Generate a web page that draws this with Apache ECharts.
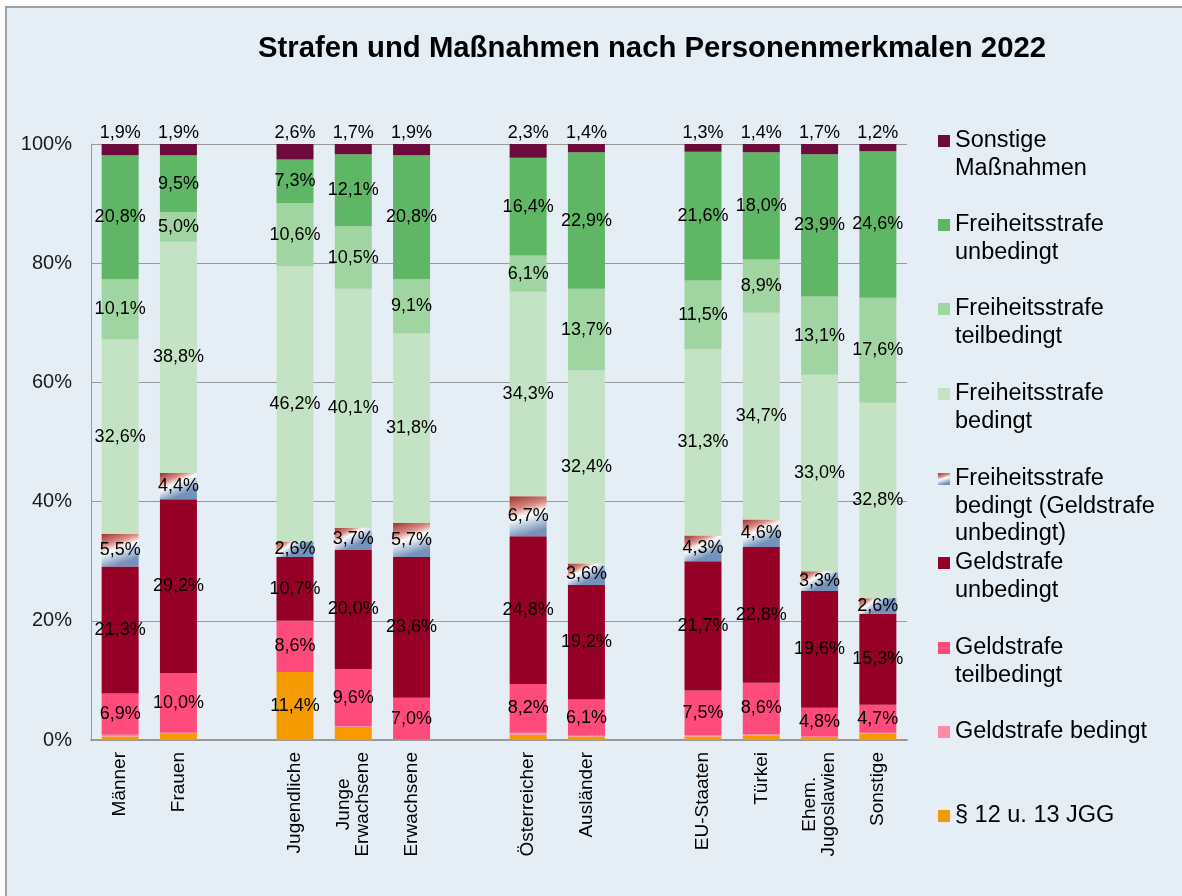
<!DOCTYPE html>
<html>
<head>
<meta charset="utf-8">
<script src="https://cdn.jsdelivr.net/npm/echarts@6/dist/echarts.min.js"></script>
<style>
    body { margin: 0; background: #fff; }
    #chart {
        position: absolute; left: 5px; top: 6px;
        width: 1177px; height: 890px;
        border-left: 2px solid #a0a0a0; border-top: 2px solid #a0a0a0;
        background: #e6eef5;
    }
</style>
</head>
<body>
<div id="chart"></div>
<script>
// groups of categories, separated by an empty slot on the axis
const groups = [
    ['Männer', 'Frauen'],
    ['Jugendliche', 'Junge\nErwachsene', 'Erwachsene'],
    ['Österreicher', 'Ausländer'],
    ['EU-Staaten', 'Türkei', 'Ehem.\nJugoslawien', 'Sonstige'],
];

// values in %, one per category (same order as groups, flattened)
const jgg          = [0.6, 1.0, 11.4, 2.2, 0.0, 0.9, 0.6, 0.6, 0.7, 0.5, 1.1];
const geldBed      = [0.3, 0.2, 0.0, 0.1, 0.1, 0.3, 0.1, 0.2, 0.3, 0.1, 0.1];
const geldTeil     = [6.9, 10.0, 8.6, 9.6, 7.0, 8.2, 6.1, 7.5, 8.6, 4.8, 4.7];
const geldUnbed    = [21.3, 29.2, 10.7, 20.0, 23.6, 24.8, 19.2, 21.7, 22.8, 19.6, 15.3];
const freiBedGeld  = [5.5, 4.4, 2.6, 3.7, 5.7, 6.7, 3.6, 4.3, 4.6, 3.3, 2.6];
const freiBed      = [32.6, 38.8, 46.2, 40.1, 31.8, 34.3, 32.4, 31.3, 34.7, 33.0, 32.8];
const freiTeil     = [10.1, 5.0, 10.6, 10.5, 9.1, 6.1, 13.7, 11.5, 8.9, 13.1, 17.6];
const freiUnbed    = [20.8, 9.5, 7.3, 12.1, 20.8, 16.4, 22.9, 21.6, 18.0, 23.9, 24.6];
const sonstige     = [1.9, 1.9, 2.6, 1.7, 1.9, 2.3, 1.4, 1.3, 1.4, 1.7, 1.2];

const yTicks = [0, 20, 40, 60, 80, 100];

const FONT = '"Liberation Sans", Arial, sans-serif';

const hatch = new echarts.graphic.LinearGradient(0, 0, 0.3, 1, [
    { offset: 0, color: '#a0302c' },
    { offset: 0.35, color: '#d98f87' },
    { offset: 0.55, color: '#ffffff' },
    { offset: 0.78, color: '#b5c6dc' },
    { offset: 1, color: '#7592bb' },
]);

// bottom -> top stacking order
const seriesDefs = [
    { name: '§ 12 u. 13 JGG', data: jgg, color: '#f59b00' },
    { name: 'Geldstrafe bedingt', data: geldBed, color: '#ff8aa8' },
    { name: 'Geldstrafe teilbedingt', data: geldTeil, color: '#ff4b7b' },
    { name: 'Geldstrafe unbedingt', data: geldUnbed, color: '#960026' },
    { name: 'Freiheitsstrafe bedingt (Geldstrafe unbedingt)', data: freiBedGeld, color: hatch },
    { name: 'Freiheitsstrafe bedingt', data: freiBed, color: '#c3e3c4' },
    { name: 'Freiheitsstrafe teilbedingt', data: freiTeil, color: '#a0d5a1' },
    { name: 'Freiheitsstrafe unbedingt', data: freiUnbed, color: '#5fb665' },
    { name: 'Sonstige Maßnahmen', data: sonstige, color: '#6b0a3b' },
];

const legendText = {
    'Sonstige Maßnahmen': 'Sonstige\nMaßnahmen',
    'Freiheitsstrafe unbedingt': 'Freiheitsstrafe\nunbedingt',
    'Freiheitsstrafe teilbedingt': 'Freiheitsstrafe\nteilbedingt',
    'Freiheitsstrafe bedingt': 'Freiheitsstrafe\nbedingt',
    'Freiheitsstrafe bedingt (Geldstrafe unbedingt)': 'Freiheitsstrafe\nbedingt (Geldstrafe\nunbedingt)',
    'Geldstrafe unbedingt': 'Geldstrafe\nunbedingt',
    'Geldstrafe teilbedingt': 'Geldstrafe\nteilbedingt',
    'Geldstrafe bedingt': 'Geldstrafe bedingt',
    '§ 12 u. 13 JGG': '§ 12 u. 13 JGG',
};
// y of the first text line of each legend entry (top to bottom)
const legendY = [133, 217, 301, 386, 471, 555, 640, 724, 808];

// build axis with empty slots between groups
const categories = [];
const slotIndex = [];
groups.forEach((g, gi) => {
    if (gi > 0) categories.push('');
    g.forEach(c => { slotIndex.push(categories.length); categories.push(c); });
});

const fmt = v => v.toFixed(1).replace('.', ',') + '%';

const series = seriesDefs.map((s, si) => {
    const isTop = si === seriesDefs.length - 1;
    const data = categories.map(() => null);
    s.data.forEach((v, i) => { data[slotIndex[i]] = v; });
    return {
        name: s.name, type: 'bar', stack: 'total',
        data, barWidth: 37,
        itemStyle: { color: s.color },
        label: {
            show: true,
            position: isTop ? 'top' : 'inside',
            distance: 2,
            color: '#000', fontSize: 18, fontFamily: FONT,
            formatter: p => (p.value == null || (!isTop && p.value < 2.5)) ? '' : fmt(p.value),
        },
        emphasis: { disabled: true },
    };
});

// one legend per entry so the marker sits on the first text line;
// blank lines above the text keep the marker level with line one
const LH = 27.5;
const legends = seriesDefs.slice().reverse().map((s, i) => {
    const n = legendText[s.name].split('\n').length;
    return {
        orient: 'vertical', left: 931,
        top: legendY[i] - (2 * n - 1) * LH / 2,
        padding: 0, itemGap: 0, itemWidth: 12, itemHeight: 12,
        icon: 'rect', selectedMode: false,
        formatter: name => '\n'.repeat(n - 1) + legendText[name],
        textStyle: { fontSize: 23.5, lineHeight: LH, fontFamily: FONT, color: '#000' },
        data: [s.name],
    };
});

const chart = echarts.init(document.getElementById('chart'));
chart.setOption({
    backgroundColor: '#e6eef5',
    animation: false,
    title: {
        text: 'Strafen und Maßnahmen nach Personenmerkmalen 2022',
        left: 251, top: 26, padding: 0,
        textStyle: { fontSize: 29.3, fontWeight: 'bold', fontFamily: FONT, color: '#000' },
    },
    legend: legends,
    grid: { left: 84, right: 277, top: 136, bottom: 158 },
    xAxis: {
        type: 'category', data: categories,
        axisLine: { lineStyle: { color: '#999', width: 2 } },
        axisTick: { show: false },
        axisLabel: {
            interval: 0, rotate: 90, margin: 12,
            fontSize: 19, fontFamily: FONT, color: '#000',
            formatter: v => v.includes('\n') ? v.split('\n').map(t => `{c|${t}}`).join('\n') : v,
            rich: { c: { align: 'center', fontSize: 19, fontFamily: FONT, color: '#000' } },
        },
    },
    yAxis: {
        type: 'value', min: yTicks[0], max: yTicks[yTicks.length - 1], interval: yTicks[1] - yTicks[0],
        axisLine: { show: true, lineStyle: { color: '#999', width: 1 } },
        axisTick: { show: false },
        axisLabel: { formatter: '{value}%', fontSize: 20, fontFamily: FONT, color: '#1a1a1a', margin: 19 },
        splitLine: { lineStyle: { color: '#999', width: 1 } },
    },
    series,
});
</script>
</body>
</html>
